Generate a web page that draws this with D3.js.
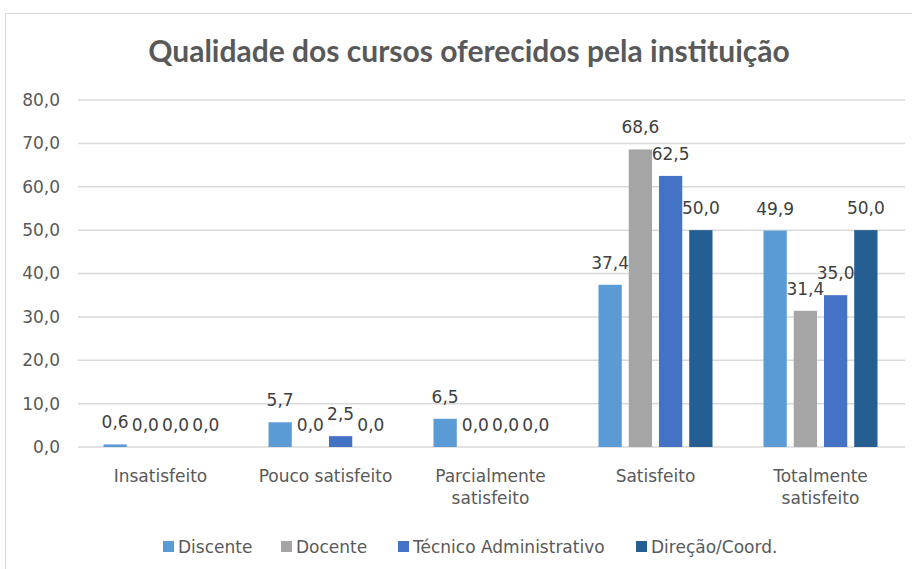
<!DOCTYPE html>
<html>
<head>
<meta charset="utf-8">
<script src="https://cdn.jsdelivr.net/npm/d3@7"></script>
<style>
  body { margin: 0; background: #fff; }
</style>
</head>
<body>
<div id="viz-container"></div>
<script>
let categories = ["Insatisfeito", "Pouco satisfeito", "Parcialmente satisfeito", "Satisfeito", "Totalmente satisfeito"];
let seriesNames = ["Discente", "Docente", "Técnico Administrativo", "Direção/Coord."];
let discente = [0.6, 5.7, 6.5, 37.4, 49.9];
let docente = [0.0, 0.0, 0.0, 68.6, 31.4];
let tecnico = [0.0, 2.5, 0.0, 62.5, 35.0];
let direcao = [0.0, 0.0, 0.0, 50.0, 50.0];
let yTicks = [0, 10, 20, 30, 40, 50, 60, 70, 80];
let colors = ["#5B9BD5", "#A5A5A5", "#4472C4", "#255E91"];

let series = [discente, docente, tecnico, direcao];
let font = "'DejaVu Sans', sans-serif";

let viz = d3.select("#viz-container")
  .append("svg")
  .attr("width", 912)
  .attr("height", 569)
  .style("font-family", font);

// chart border
viz.append("rect")
  .attr("x", 5.5).attr("y", 13.5)
  .attr("width", 920).attr("height", 570)
  .attr("fill", "white")
  .attr("stroke", "#d9d9d9");

viz.append("text")
  .attr("x", 469).attr("y", 62)
  .attr("text-anchor", "middle")
  .style("font-family", "Lato, sans-serif")
  .style("font-size", "30px").style("font-weight", "bold")
  .attr("fill", "#595959")
  .text("Qualidade dos cursos oferecidos pela instituição");

let x = d3.scaleBand().domain(categories).range([78, 903]);
let inner = d3.scaleBand().domain(d3.range(4)).range([0, 114]).paddingInner(0.23);
let y = d3.scaleLinear().domain([0, 80]).range([447, 100]);

let fmt = v => d3.format(".1f")(v).replace(".", ",");

// gridlines
viz.append("g").selectAll("line").data(yTicks).enter().append("line")
  .attr("x1", 78).attr("x2", 905)
  .attr("y1", d => y(d)).attr("y2", d => y(d))
  .attr("stroke", "#d9d9d9").attr("stroke-width", 1.5);

let yAxis = viz.append("g")
  .attr("transform", "translate(66,0)")
  .call(d3.axisLeft(y).tickValues(yTicks).tickFormat(fmt).tickSize(0).tickPadding(6));
yAxis.select(".domain").remove();
yAxis.selectAll("text").style("font-size", "17px").style("font-family", font).attr("fill", "#595959");

// bars
series.forEach(function(vals, s) {
  let g = viz.append("g");
  g.selectAll("rect").data(vals).enter().append("rect")
    .attr("x", (d, i) => x(categories[i]) + x.bandwidth() / 2 - 57 + inner(s))
    .attr("y", d => y(d))
    .attr("width", inner.bandwidth())
    .attr("height", d => y(0) - y(d))
    .attr("fill", colors[s]);
  g.selectAll("text").data(vals).enter().append("text")
    .attr("x", (d, i) => x(categories[i]) + x.bandwidth() / 2 - 57 + inner(s) + inner.bandwidth() / 2)
    .attr("y", d => y(d) - 16)
    .attr("text-anchor", "middle")
    .style("font-size", "17px")
    .attr("fill", "#404040")
    .text(fmt);
});

// category labels
let xl = viz.append("g").selectAll("text").data(categories).enter().append("text")
  .attr("x", d => x(d) + x.bandwidth() / 2)
  .attr("y", 482)
  .attr("text-anchor", "middle")
  .style("font-size", "17px")
  .attr("fill", "#595959");
xl.each(function(d) {
  let parts = d === "Pouco satisfeito" ? [d] : d.split(" ");
  let t = d3.select(this);
  parts.forEach((p, k) => {
    t.append("tspan").attr("x", x(d) + x.bandwidth() / 2).attr("dy", k === 0 ? 0 : 22).text(p);
  });
});

// legend
let legendX = [163, 281, 398, 636];
let lg = viz.append("g").selectAll("g").data(seriesNames).enter().append("g")
  .attr("transform", (d, i) => "translate(" + legendX[i] + ",541)");
lg.append("rect").attr("width", 11).attr("height", 11).attr("fill", (d, i) => colors[i]);
lg.append("text").attr("x", 15).attr("y", 12).style("font-size", "17px").attr("fill", "#595959").text(d => d);
</script>
</body>
</html>
